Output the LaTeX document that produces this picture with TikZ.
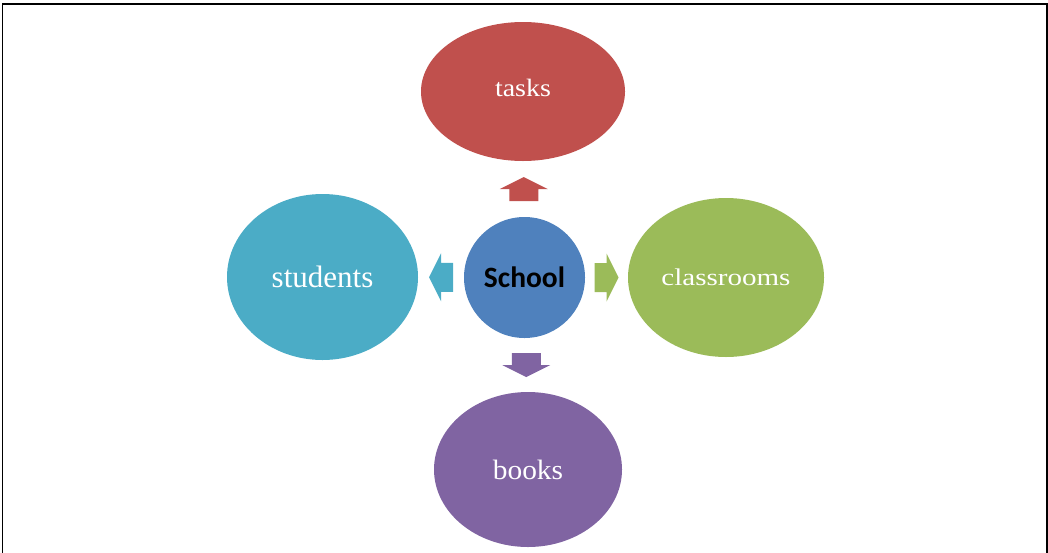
\documentclass[tikz,border=0pt]{standalone}
\usepackage{fontspec}
\setmainfont{Liberation Serif}
\newfontfamily\hubfont{Carlito}
\usetikzlibrary{shapes.geometric,calc}

\definecolor{taskred}{HTML}{C0504D}
\definecolor{roomgreen}{HTML}{9BBB59}
\definecolor{studcyan}{HTML}{4BACC6}
\definecolor{bookviolet}{HTML}{8064A2}
\definecolor{hubblue}{HTML}{4F81BD}

\begin{document}
\begin{tikzpicture}[x=1pt,y=-1pt,
   blob/.style={ellipse,inner sep=0pt,text=white},
   blockarrow/.pic={
      \fill (-12,-14.5) -- (0,-14.5) -- (0,-24) -- (12,0)
         -- (0,24) -- (0,14.5) -- (-12,14.5) -- cycle;}]
   \useasboundingbox (0,0) rectangle (1048,552);
   \draw[line width=1.7pt] (2.5,4.3) rectangle (1046.8,600);

   \node (school) [circle,fill=hubblue,minimum size=121pt,inner sep=0pt,
      font=\hubfont\bfseries\fontsize{29.5}{32}\selectfont] at (524.5,277.5) {School};
   \node (tasks) [blob,fill=taskred,minimum width=204pt,minimum height=139pt,
      font=\fontsize{25}{28}\selectfont] at (523,91.5) {\raisebox{8pt}{\scalebox{1.12}[1]{tasks}}};
   \node (rooms) [blob,fill=roomgreen,minimum width=196pt,minimum height=159pt,
      font=\fontsize{24}{27}\selectfont] at (726,277.5) {\scalebox{1.21}[1]{classrooms}};
   \node (students) [blob,fill=studcyan,minimum width=191pt,minimum height=166pt,
      font=\fontsize{31}{34}\selectfont] at (322.5,277) {students};
   \node (books) [blob,fill=bookviolet,minimum width=188pt,minimum height=155pt,
      font=\fontsize{28}{31}\selectfont] at (528,469.5) {\scalebox{1.05}[1]{books}};

   % block arrows half way between the hub and each bubble
   \pic[fill=taskred,rotate=90] at ($(school.north)!0.5!(tasks.south)$) {blockarrow};
   \pic[fill=roomgreen] at ($(school.east)!0.5!(rooms.west)$) {blockarrow};
   \pic[fill=studcyan,rotate=180] at ($(school.west)!0.5!(students.east)$) {blockarrow};
   \pic[fill=bookviolet,rotate=-90] at ($(school.south)!0.5!(books.north)$) {blockarrow};
\end{tikzpicture}
\end{document}
